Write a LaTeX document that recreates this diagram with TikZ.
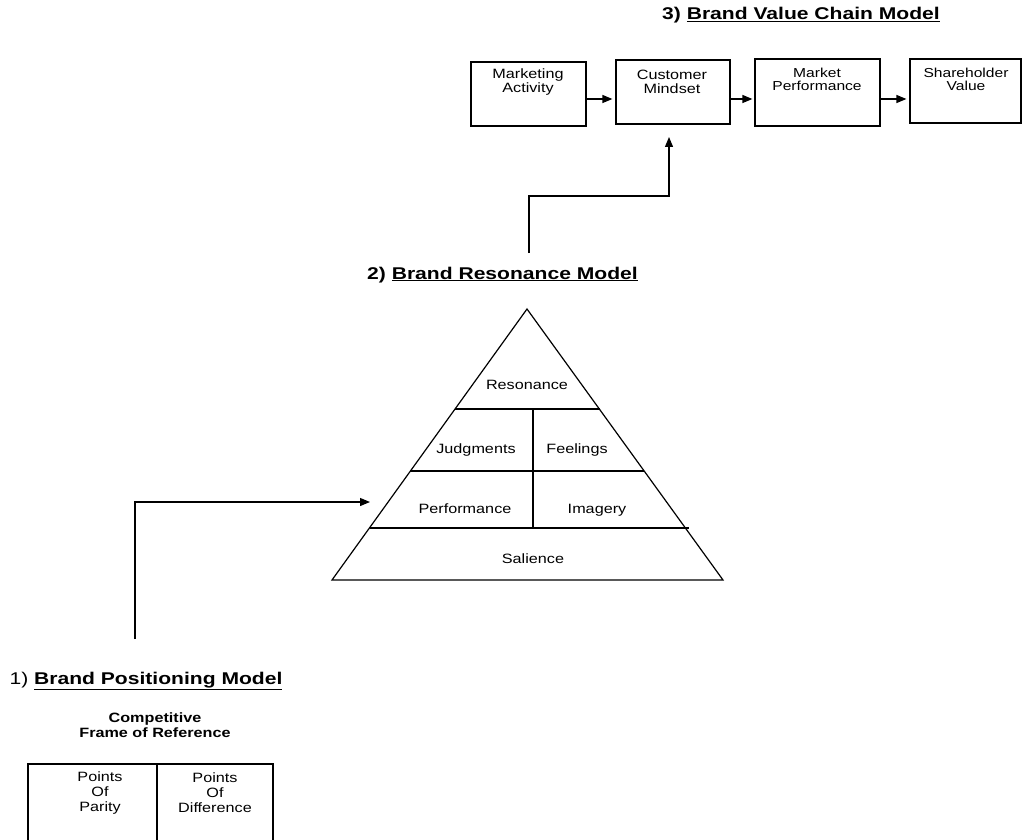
\documentclass[tikz,border=0pt]{standalone}
\usepackage{fontspec}
\setmainfont{Liberation Sans}[FakeStretch=1.2]
\newfontfamily\ttlfont{Liberation Sans}[FakeStretch=1.24]
\usetikzlibrary{arrows.meta}
\begin{document}
\begin{tikzpicture}[x=1pt,y=-1pt,
  ln/.style={line width=1.2pt},
  arr/.style={line width=1.2pt,-{Triangle[length=10pt,width=8pt]}},
  box/.style={draw,line width=1.2pt,inner sep=0pt},
  txt/.style={font=\fontsize{13.5}{14.3}\selectfont,align=center,inner sep=0pt},
  ptxt/.style={font=\fontsize{13.5}{15}\selectfont,align=center,inner sep=0pt},
  ttl/.style={font=\ttlfont\fontsize{17}{20}\selectfont,inner sep=0pt,anchor=base},
  lbl/.style={font=\fontsize{13.5}{15}\selectfont,inner sep=0pt,anchor=base},
  ]
\useasboundingbox (0,0) rectangle (1023,840);

% ---------- 3) Brand Value Chain Model ----------
\node[ttl] (title3) at (801,20) {\textbf{3) \underline{Brand Value Chain Model}}};

\node[box,minimum width=115pt,minimum height=64pt] (b1) at (528.5,94) {};
\node[box,minimum width=114pt,minimum height=64pt] (b2) at (673,92) {};
\node[box,minimum width=125pt,minimum height=67pt] (b3) at (817.5,92.5) {};
\node[box,minimum width=111pt,minimum height=64pt] (b4) at (965.5,91) {};

\node[txt] (t1) at (528,82) {Marketing\\Activity};
\node[txt] (t2) at (672,82) {Customer\\Mindset};
\node[txt,font=\fontsize{13}{13.5}\selectfont] (t3) at (817,79.5) {Market\\Performance};
\node[txt,font=\fontsize{13}{13.5}\selectfont] (t4) at (966,79.5) {Shareholder\\Value};

\coordinate (row) at (0,99);
\draw[arr,shorten >=3pt] (b1.east |- row) -- (b2.west |- row);
\draw[arr,shorten >=2pt] (b2.east |- row) -- (b3.west |- row);
\draw[arr,shorten >=3pt] (b3.east |- row) -- (b4.west |- row);

% connector from resonance model up to customer mindset
\coordinate (c2start) at (529,253);
\coordinate (c2mid) at (669,196);
\coordinate (c2end) at (669,137);
\draw[arr] (c2start) |- (c2mid) -- (c2end);

% ---------- 2) Brand Resonance Model ----------
\node[ttl] (title2) at (502.5,279) {\textbf{2) \underline{Brand Resonance Model}}};

\coordinate (apex) at (527,309);
\coordinate (bl) at (332,580);
\coordinate (br) at (723,580);
\draw[ln,line join=miter] (apex) -- (bl) -- (br) -- cycle;
\draw[ln] (455,409) -- (600,409);
\draw[ln] (410,471) -- (644,471);
\draw[ln] (370,528) -- (689,528);
\draw[ln] (533,409) -- (533,528);

\node[lbl] (res) at (527,389) {Resonance};
\node[lbl] (jud) at (476,453) {Judgments};
\node[lbl] (fee) at (577,453) {Feelings};
\node[lbl] (per) at (465,513) {Performance};
\node[lbl] (ima) at (597,513) {Imagery};
\node[lbl] (sal) at (533,563) {Salience};

% connector from positioning model to resonance model
\coordinate (c1start) at (135,639);
\coordinate (c1end) at (370,502);
\draw[arr] (c1start) |- (c1end);

% ---------- 1) Brand Positioning Model ----------
\node[ttl] (title1) at (146,684) {1) \textbf{\underline{Brand Positioning Model}}};

\node[txt,font=\bfseries\fontsize{13.5}{15}\selectfont] (cfr) at (155,725.5) {Competitive\\Frame of Reference};

\draw[ln] (28,842) -- (28,764) -- (273,764) -- (273,842);
\draw[ln] (157,764) -- (157,842);

\node[ptxt] (pop) at (100,793) {Points\\Of\\Parity};
\node[ptxt] (pod) at (215,793) {Points\\Of\\Difference};
\end{tikzpicture}
\end{document}
